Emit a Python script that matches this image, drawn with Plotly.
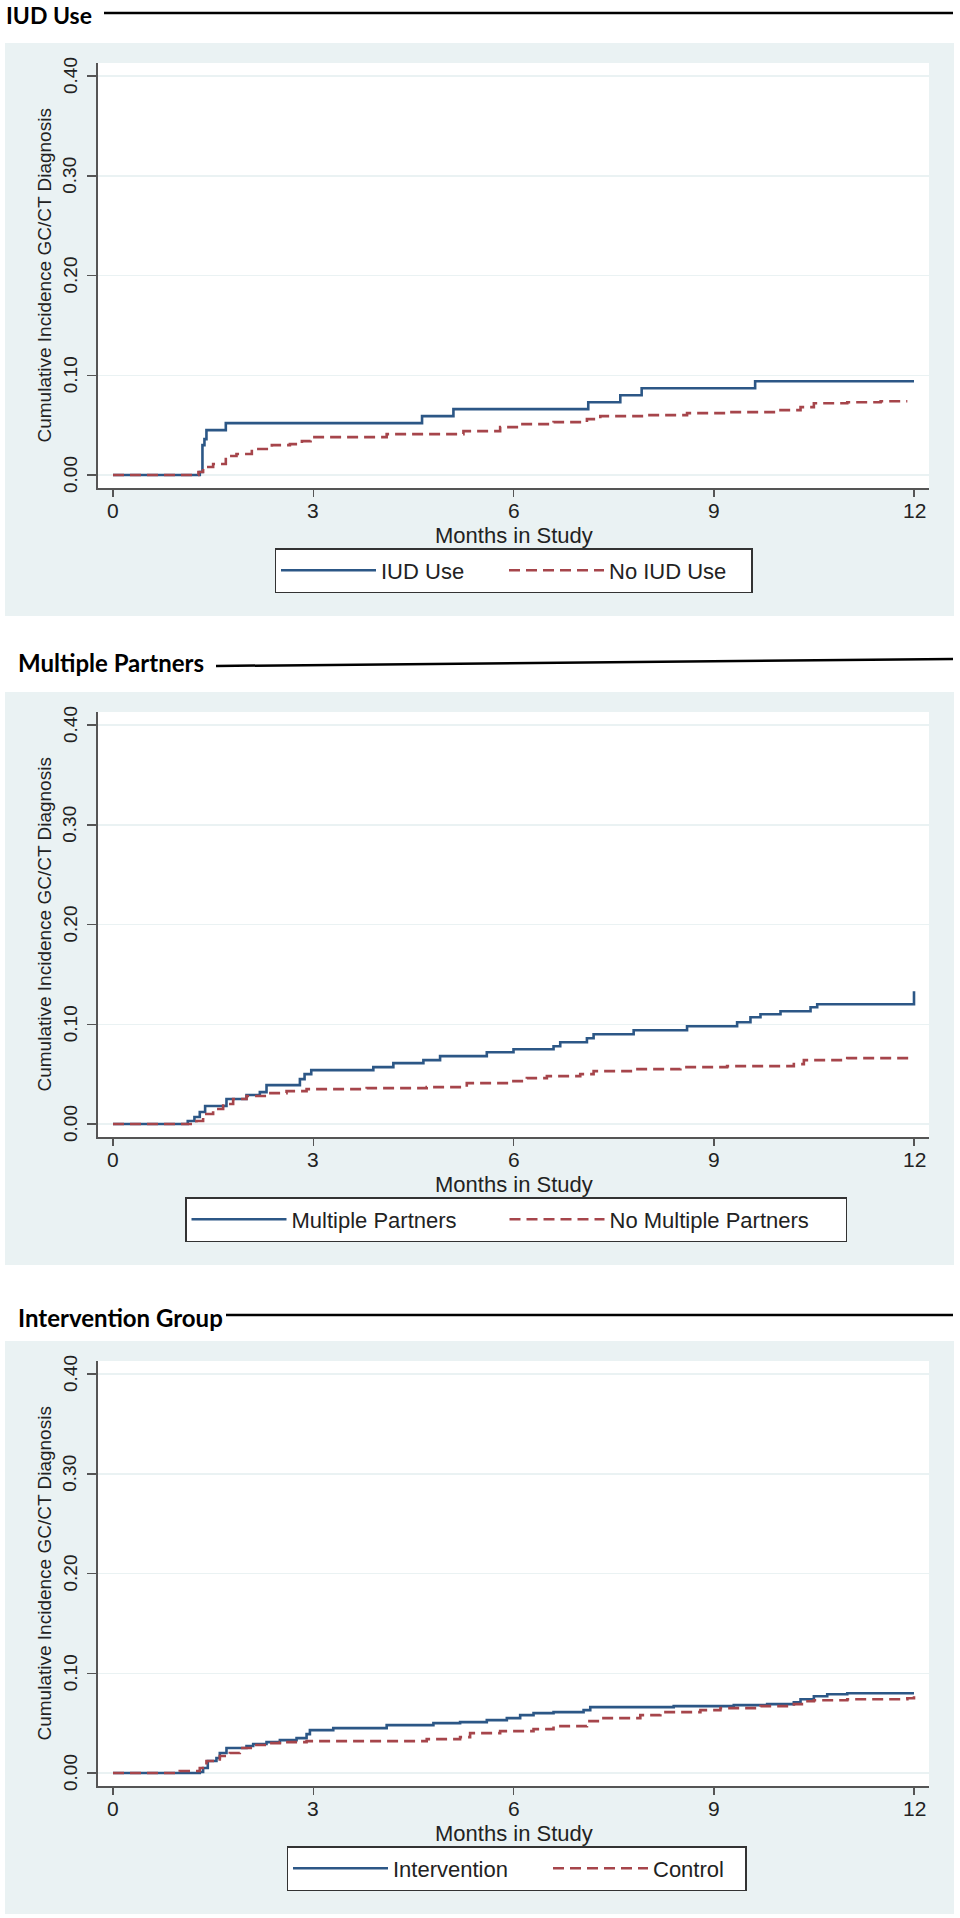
import plotly.graph_objects as go

W, H = 960, 1918

# ---------------- data ----------------
panel_titles = ["IUD Use", "Multiple Partners", "Intervention Group"]
legend_names = [["IUD Use", "No IUD Use"],
                ["Multiple Partners", "No Multiple Partners"],
                ["Intervention", "Control"]]

iud_t = [0, 1.30, 1.34, 1.37, 1.40, 1.69, 4.63, 5.10, 7.12, 7.60, 7.92, 9.62, 12.0]
iud_v = [0, 0.003, 0.030, 0.036, 0.045, 0.052, 0.059, 0.066, 0.073, 0.080, 0.087, 0.094, 0.094]

noiud_t = [0, 1.28, 1.35, 1.50, 1.69, 1.85, 2.08, 2.38, 2.65, 2.83, 2.96, 4.10, 5.25, 5.80,
           6.10, 6.60, 7.10, 7.30, 8.00, 8.60, 9.20, 10.0, 10.3, 10.5, 11.0, 11.5, 11.9]
noiud_v = [0, 0.003, 0.008, 0.011, 0.019, 0.021, 0.026, 0.030, 0.031, 0.034, 0.038, 0.041, 0.044,
           0.048, 0.051, 0.053, 0.056, 0.059, 0.060, 0.062, 0.063, 0.065, 0.068, 0.072, 0.073,
           0.074, 0.074]

mp_t = [0, 1.12, 1.22, 1.30, 1.38, 1.70, 2.00, 2.20, 2.30, 2.80, 2.87, 2.97, 3.90, 4.20, 4.65,
        4.90, 5.60, 6.00, 6.60, 6.70, 7.10, 7.20, 7.80, 8.60, 9.35, 9.55, 9.70, 10.0, 10.45,
        10.55, 12.0, 12.0]
mp_v = [0, 0.003, 0.007, 0.012, 0.018, 0.025, 0.029, 0.032, 0.039, 0.045, 0.050, 0.054, 0.057,
        0.061, 0.064, 0.068, 0.072, 0.075, 0.078, 0.082, 0.086, 0.090, 0.094, 0.098, 0.102,
        0.107, 0.110, 0.113, 0.117, 0.120, 0.120, 0.133]

nomp_t = [0, 1.25, 1.35, 1.50, 1.65, 1.80, 2.00, 2.30, 2.60, 2.90, 3.80, 4.70, 5.30, 5.90, 6.20,
          6.50, 7.00, 7.20, 7.80, 8.50, 9.20, 10.2, 10.35, 11.0, 12.0]
nomp_v = [0, 0.003, 0.010, 0.015, 0.020, 0.025, 0.028, 0.031, 0.033, 0.035, 0.036, 0.037, 0.041,
          0.043, 0.046, 0.048, 0.050, 0.053, 0.055, 0.057, 0.058, 0.060, 0.064, 0.066, 0.066]

int_t = [0, 1.30, 1.35, 1.42, 1.55, 1.60, 1.70, 2.00, 2.10, 2.30, 2.50, 2.75, 2.90, 2.95, 3.30,
         4.10, 4.80, 5.20, 5.60, 5.90, 6.10, 6.30, 6.60, 7.05, 7.15, 8.40, 9.30, 9.80, 10.2,
         10.3, 10.5, 10.7, 11.0, 12.0]
int_v = [0, 0.001, 0.005, 0.012, 0.015, 0.020, 0.025, 0.027, 0.029, 0.031, 0.033, 0.035, 0.039,
         0.043, 0.045, 0.048, 0.050, 0.051, 0.053, 0.055, 0.058, 0.060, 0.061, 0.063, 0.066,
         0.067, 0.068, 0.069, 0.071, 0.074, 0.077, 0.079, 0.080, 0.080]

ctl_t = [0, 1.00, 1.30, 1.40, 1.60, 1.75, 1.90, 2.10, 2.30, 2.50, 2.90, 4.70, 5.20, 5.35, 5.80,
         6.30, 6.60, 7.10, 7.30, 7.90, 8.20, 8.80, 9.10, 9.70, 10.2, 10.35, 10.5, 11.0, 11.9,
         12.0]
ctl_v = [0, 0.002, 0.005, 0.012, 0.017, 0.020, 0.025, 0.028, 0.030, 0.031, 0.032, 0.034, 0.036,
         0.040, 0.042, 0.044, 0.047, 0.052, 0.055, 0.058, 0.061, 0.063, 0.065, 0.067, 0.069,
         0.072, 0.073, 0.074, 0.075, 0.077]

series = [((iud_t, iud_v), (noiud_t, noiud_v)),
          ((mp_t, mp_v), (nomp_t, nomp_v)),
          ((int_t, int_v), (ctl_t, ctl_v))]

y_ticks = [0.0, 0.1, 0.2, 0.3, 0.4]
y_ticklabels = ["0.00", "0.10", "0.20", "0.30", "0.40"]
x_ticks = [0, 3, 6, 9, 12]
x_ticklabels = ["0", "3", "6", "9", "12"]

# ---------------- styling / layout ----------------
BLUE = "#2c5786"
RED = "#a6454b"
PANEL_BG = "#eaf2f3"
AXIS_C = "#555555"
TXT = "#222222"
FONT = "Liberation Sans, Arial, sans-serif"
TITLE_FONT = "Lato, Open Sans, sans-serif"

def px(x):
    return x / W

def py(y):
    return 1 - y / H

offsets = [0, 649, 1298]
title_x = [4, 16, 16]
title_y = [15, 662, 1317]
title_sizes = [23, 24, 24]
title_line = [((104, 13), (953, 13)), ((216, 666), (953, 659)), ((226, 1315), (953, 1315))]
legend_center = [(513.5, 570.5), (516, 1219.5), (516.5, 1868.5)]
legend_widths = [(118, 137), (208, 231), (150, 87)]

# plot-region geometry (panel 1, pixels)
PL, PR = 98, 929          # white plot region left/right
PT, PB = 63, 488          # white plot region top/bottom
X0PX, X12PX = 113, 914    # pixel of x=0 and x=12
Y0PX, Y4PX = 475, 76      # pixel of y=0 and y=0.4
xs = (X12PX - X0PX) / 12.0
ys = (Y0PX - Y4PX) / 0.4
xr = [(PL - X0PX) / xs, 12 + (PR - X12PX) / xs]
yr = [-(PB - Y0PX) / ys, 0.4 + (Y4PX - PT) / ys]

fig = go.Figure()
shapes = []
annotations = []
layout_axes = {}

for i in range(3):
    off = offsets[i]
    ax = "" if i == 0 else str(i + 1)
    xa, ya = "x" + ax, "y" + ax
    leg = "legend" if i == 0 else "legend" + str(i + 1)
    (bt, bv), (rt, rv) = series[i]
    fig.add_trace(go.Scatter(x=bt, y=bv, mode="lines", line_shape="hv",
                             line=dict(color=BLUE, width=2.6),
                             name=legend_names[i][0], xaxis=xa, yaxis=ya, legend=leg,
                             legendwidth=legend_widths[i][0]))
    fig.add_trace(go.Scatter(x=rt, y=rv, mode="lines", line_shape="hv",
                             line=dict(color=RED, width=2.6, dash="11px,6px"),
                             name=legend_names[i][1], xaxis=xa, yaxis=ya, legend=leg,
                             legendwidth=legend_widths[i][1]))

    layout_axes["xaxis" + ax] = dict(
        domain=[px(PL), px(PR)], range=xr, anchor=ya,
        tickvals=x_ticks, showticklabels=False, ticks="outside", ticklen=7,
        tickwidth=1.5, tickcolor=AXIS_C, showline=True, linecolor=AXIS_C, linewidth=2,
        showgrid=False, zeroline=False, fixedrange=True)
    layout_axes["yaxis" + ax] = dict(
        domain=[py(PB + off), py(PT + off)], range=yr, anchor=xa,
        tickvals=y_ticks, showticklabels=False, ticks="outside", ticklen=9,
        tickwidth=1.5, tickcolor=AXIS_C, showline=True, linecolor=AXIS_C, linewidth=2,
        showgrid=True, gridcolor=PANEL_BG, gridwidth=1.5, zeroline=False, fixedrange=True)

    # tick labels (positioned through the axes' data coordinates)
    for tv, tl in zip(x_ticks, x_ticklabels):
        annotations.append(dict(text=tl, xref=xa, yref="paper", x=tv, y=py(510 + off),
                                xanchor="center", yanchor="middle", showarrow=False,
                                font=dict(family=FONT, size=21, color=TXT)))
    for tv, tl in zip(y_ticks, y_ticklabels):
        annotations.append(dict(text=tl, xref="paper", yref=ya, x=px(70), y=tv,
                                xanchor="center", yanchor="middle", textangle=-90,
                                showarrow=False, font=dict(family=FONT, size=19, color=TXT)))

    # grey panel + white plot region
    shapes.append(dict(type="rect", xref="paper", yref="paper", layer="below",
                       x0=px(5), x1=px(954), y0=py(616 + off), y1=py(43 + off),
                       fillcolor=PANEL_BG, line=dict(width=0)))
    shapes.append(dict(type="rect", xref="paper", yref="paper", layer="below",
                       x0=px(PL), x1=px(PR), y0=py(PB + off), y1=py(PT + off),
                       fillcolor="white", line=dict(width=0)))
    # title rule
    (lx0, ly0), (lx1, ly1) = title_line[i]
    shapes.append(dict(type="line", xref="paper", yref="paper",
                       x0=px(lx0), y0=py(ly0), x1=px(lx1), y1=py(ly1),
                       line=dict(color="black", width=2.5)))
    # panel title
    annotations.append(dict(text="<b>" + panel_titles[i] + "</b>", xref="paper", yref="paper",
                            x=px(title_x[i]), y=py(title_y[i]), xanchor="left",
                            yanchor="middle", showarrow=False,
                            font=dict(family=TITLE_FONT, size=title_sizes[i], color="black")))
    # y-axis title
    annotations.append(dict(text="Cumulative Incidence GC/CT Diagnosis", xref="paper",
                            yref="paper", x=px(44), y=py((Y0PX + Y4PX) / 2 + off),
                            xanchor="center", yanchor="middle", textangle=-90,
                            showarrow=False, font=dict(family=FONT, size=19, color=TXT)))
    # x-axis title
    annotations.append(dict(text="Months in Study", xref="paper", yref="paper",
                            x=px((X0PX + X12PX) / 2), y=py(535 + off), xanchor="center",
                            yanchor="middle", showarrow=False,
                            font=dict(family=FONT, size=22, color=TXT)))
    # legend
    lcx, lcy = legend_center[i]
    layout_axes[leg] = dict(
        x=px(lcx), y=py(lcy), xanchor="center", yanchor="middle",
        orientation="h", bgcolor="white", bordercolor="#333333", borderwidth=1.5,
        font=dict(family=FONT, size=22, color=TXT), itemwidth=95,
        traceorder="normal")

fig.update_layout(
    width=W, height=H, margin=dict(l=0, r=0, t=0, b=0),
    paper_bgcolor="white", plot_bgcolor="rgba(0,0,0,0)",
    shapes=shapes, annotations=annotations, showlegend=True,
    **layout_axes)

fig.write_html("out.html",
               config={"displayModeBar": False, "staticPlot": True},
               post_script="document.body.style.margin='0px';"
                           "document.body.style.overflow='hidden';")
